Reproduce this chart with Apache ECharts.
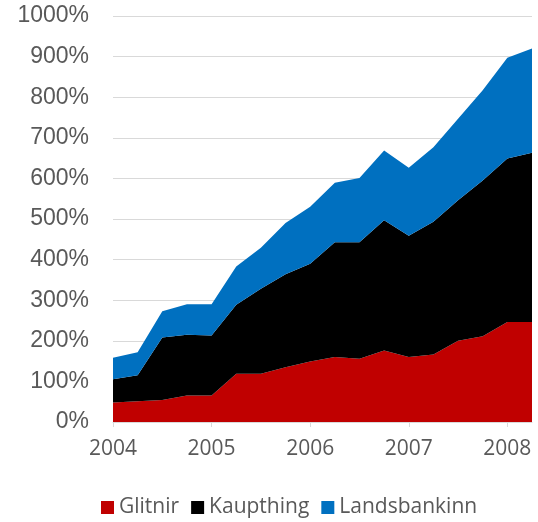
<!DOCTYPE html>
<html>
<head>
<meta charset="utf-8">
<style>
  html, body { margin: 0; padding: 0; background: #fff; }
  #main { width: 538px; height: 522px; }
</style>
<script src="https://cdn.jsdelivr.net/npm/echarts@6/dist/echarts.min.js"></script>
</head>
<body>
<div id="main"></div>
<script>
// ársfjórðungar 2004 Q1 - 2008 Q2
const quarters = [
  '2004 Q1', '2004 Q2', '2004 Q3', '2004 Q4',
  '2005 Q1', '2005 Q2', '2005 Q3', '2005 Q4',
  '2006 Q1', '2006 Q2', '2006 Q3', '2006 Q4',
  '2007 Q1', '2007 Q2', '2007 Q3', '2007 Q4',
  '2008 Q1', '2008 Q2'
]
const glitnir = [48, 51, 54, 65, 65, 119, 119, 135, 149, 160, 156, 176, 160, 166, 200, 211, 246, 246]
const kaupthing = [57, 64, 154, 150, 148, 170, 209, 229, 241, 283, 287, 321, 299, 327, 346, 384, 403, 417]
const landsbankinn = [53, 57, 65, 75, 77, 94, 101, 126, 140, 146, 158, 172, 167, 184, 201, 222, 248, 257]
const yTicks = [0, 100, 200, 300, 400, 500, 600, 700, 800, 900, 1000]

const myChart = echarts.init(document.getElementById('main'))

function areaSeries(name, data, color) {
  return {
    name: name,
    type: 'line',
    stack: 'total',
    data: data,
    showSymbol: false,
    symbol: 'none',
    lineStyle: { width: 0 },
    areaStyle: { color: color, opacity: 1 },
    itemStyle: { color: color },
  }
}

const option = {
  animation: false,
  grid: { left: 113, right: 6, top: 16, bottom: 100 },
  legend: {
    bottom: -1,
    left: 96,
    icon: 'rect',
    itemWidth: 13,
    itemHeight: 13,
    itemGap: 12,
    textStyle: { fontFamily: 'Open Sans', fontSize: 21, color: '#595959' },
    data: ['Glitnir', 'Kaupthing', 'Landsbankinn'],
  },
  xAxis: {
    type: 'category',
    data: quarters,
    boundaryGap: false,
    axisLine: { lineStyle: { color: '#d9d9d9', width: 1 } },
    axisTick: { interval: 3, length: 5, lineStyle: { color: '#d9d9d9' } },
    axisLabel: {
      interval: 3,
      margin: 17,
      fontFamily: 'Open Sans',
      fontSize: 21,
      color: '#595959',
      formatter: (v) => v.slice(0, 4),
    },
    splitLine: { show: false },
  },
  yAxis: {
    type: 'value',
    min: yTicks[0],
    max: yTicks[yTicks.length - 1],
    interval: 100,
    axisLine: { show: false },
    axisTick: { show: false },
    axisLabel: {
      margin: 24,
      fontFamily: 'Liberation Sans',
      fontSize: 23,
      color: '#595959',
      formatter: (v) => v + '%',
    },
    splitLine: { lineStyle: { color: '#d9d9d9', width: 1 } },
  },
  series: [
    areaSeries('Glitnir', glitnir, '#C00000'),
    areaSeries('Kaupthing', kaupthing, '#000000'),
    areaSeries('Landsbankinn', landsbankinn, '#0070C0'),
  ],
}

myChart.setOption(option)
window.onresize = function () {
  myChart.resize()
}
</script>
</body>
</html>
